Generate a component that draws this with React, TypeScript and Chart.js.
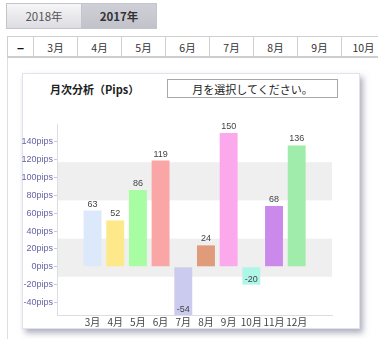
import React, { useEffect, useRef } from 'react';
import { Chart, registerables } from 'chart.js';

Chart.register(...registerables);

const months = ['3月', '4月', '5月', '6月', '7月', '8月', '9月', '10月', '11月', '12月'];
const pips = [63, 52, 86, 119, -54, 24, 150, -20, 68, 136];
const barColors = ['#dbe9fb', '#fee98a', '#a8fca2', '#fba6a6', '#cbcbef', '#df9b7a', '#fba9ec', '#aef6e7', '#cb8aeb', '#a0ecab'];
const yTicks = [-40, -20, 0, 20, 40, 60, 80, 100, 120, 140];
const yMin = -54;
const yMax = 160;
const yearTabs = ['2018年', '2017年'];
const monthTabs = ['−', '3月', '4月', '5月', '6月', '7月', '8月', '9月', '10月'];
const chartTitle = '月次分析（Pips）';
const selectText = '月を選択してください。';

const JP = '"Noto Sans CJK JP", "Noto Sans", sans-serif';

const bandPlugin = {
  id: 'bands',
  beforeDraw(chart: any) {
    const { ctx, chartArea } = chart;
    const { left, right, top, bottom } = chartArea;
    const h = (bottom - top) / 5;
    ctx.save();
    ctx.fillStyle = '#efefef';
    [1, 3].forEach((i) => ctx.fillRect(left, top + i * h, right - left, h));
    ctx.restore();
  },
};

const labelPlugin = {
  id: 'barLabels',
  afterDatasetsDraw(chart: any) {
    const { ctx } = chart;
    const meta = chart.getDatasetMeta(0);
    ctx.save();
    ctx.font = '9px "Liberation Sans", Arial, sans-serif';
    ctx.fillStyle = '#444';
    ctx.textAlign = 'center';
    ctx.textBaseline = 'bottom';
    meta.data.forEach((el: any, i: number) => {
      const v = pips[i];
      if (v >= 0) ctx.fillText(String(v), el.x, el.y - 2);
      else ctx.fillText(String(v), el.x, el.y - 1);
    });
    ctx.restore();
  },
};

export default function App() {
  const ref = useRef<HTMLCanvasElement>(null);
  useEffect(() => {
    document.body.style.margin = '0';
    const chart = new Chart(ref.current as HTMLCanvasElement, {
      type: 'bar',
      data: {
        datasets: [
          {
            data: pips.map((v, i) => ({ x: i, y: v })),
            backgroundColor: barColors,
            borderWidth: 0,
            categoryPercentage: 1,
            barPercentage: 0.79,
          },
        ],
      },
      options: {
        animation: false,
        responsive: false,
        layout: { padding: { top: 24, right: 46, left: 0, bottom: 0 } },
        plugins: { legend: { display: false }, tooltip: { enabled: false }, title: { display: false } },
        scales: {
          x: {
            type: 'linear',
            min: -0.96,
            max: 9.95,
            afterBuildTicks: (s: any) => {
              s.ticks = months.map((_, i) => ({ value: i }));
            },
            afterFit: (s: any) => {
              s.height = 14;
            },
            ticks: {
              callback: (v: any) => months[v] ?? '',
              font: { size: 10, family: JP },
              color: '#444',
              padding: 1,
              autoSkip: false,
              maxRotation: 0,
            },
            grid: { display: false, drawTicks: false },
            border: { display: true, color: '#dcdce4', width: 1 },
          },
          y: {
            min: yMin,
            max: yMax,
            afterBuildTicks: (s: any) => {
              s.ticks = yTicks.map((v) => ({ value: v }));
            },
            afterFit: (s: any) => {
              s.width = 57;
            },
            ticks: {
              callback: (v: any) => v + 'pips',
              font: { size: 9, family: '"Liberation Sans", Arial, sans-serif' },
              color: '#6464a4',
              padding: 1,
            },
            grid: { display: true, drawOnChartArea: false, drawTicks: true, tickLength: 3, color: '#c8c8d8' },
            border: { display: true, color: '#dcdce4', width: 1 },
          },
        },
      },
      plugins: [bandPlugin, labelPlugin],
    } as any);
    return () => chart.destroy();
  }, []);

  const cellBase: React.CSSProperties = {
    position: 'absolute',
    top: 36,
    height: 21,
    borderLeft: '1px solid #cfcfcf',
    borderTop: '1px solid #cfcfcf',
    boxSizing: 'border-box',
    fontFamily: JP,
    fontSize: 10.5,
    color: '#333',
    display: 'flex',
    alignItems: 'center',
    justifyContent: 'center',
    background: '#fff',
  };

  return (
    <div style={{ position: 'relative', width: 378, height: 339, overflow: 'hidden', background: '#fff' }}>
      {yearTabs.map((t, i) => (
        <div
          key={t}
          style={{
            position: 'absolute',
            left: i === 0 ? 6 : 82,
            top: 3,
            width: i === 0 ? 76 : 75,
            height: 26,
            boxSizing: 'border-box',
            border: '1px solid #c4c4cc',
            borderLeft: i === 0 ? '1px solid #c4c4cc' : 'none',
            background: i === 0 ? 'linear-gradient(#f6f6f8, #dcdce2)' : 'linear-gradient(#cfcfd7, #c2c2cb)',
            fontFamily: JP,
            fontSize: 11.5,
            fontWeight: i === 1 ? 'bold' : 'normal',
            color: i === 1 ? '#333' : '#555',
            display: 'flex',
            alignItems: 'center',
            justifyContent: 'center',
          }}
        >
          {t}
        </div>
      ))}
      {monthTabs.map((t, i) => (
        <div
          key={t + i}
          style={{
            ...cellBase,
            left: i === 0 ? 7 : 33 + (i - 1) * 44,
            width: i === 0 ? 26 : 44,
            fontWeight: i === 0 ? 'bold' : 'normal',
            fontSize: i === 0 ? 12 : 10.5,
            color: i === 0 ? '#111' : '#333',
          }}
        >
          {t}
        </div>
      ))}
      <div style={{ position: 'absolute', left: 7, top: 56, width: 371, height: 2, background: '#cdcdcd' }} />
      <div style={{ position: 'absolute', left: 7, top: 58, width: 1, height: 281, background: '#dedede' }} />
      <div
        style={{
          position: 'absolute',
          left: 22,
          top: 73,
          width: 338,
          height: 256,
          boxSizing: 'border-box',
          border: '1px solid #e2e2ee',
          background: '#fff',
          boxShadow: '3px 4px 6px rgba(110,110,140,0.55)',
        }}
      />
      <div
        style={{
          position: 'absolute',
          left: 50,
          top: 80,
          height: 18,
          lineHeight: '18px',
          fontFamily: JP,
          fontSize: 11,
          fontWeight: 'bold',
          color: '#222',
          whiteSpace: 'nowrap',
        }}
      >
        {chartTitle}
      </div>
      <div
        style={{
          position: 'absolute',
          left: 167,
          top: 79,
          width: 171,
          height: 19,
          boxSizing: 'border-box',
          border: '1px solid #a8a8a8',
          fontFamily: JP,
          fontSize: 11,
          color: '#222',
          display: 'flex',
          alignItems: 'center',
          justifyContent: 'center',
          whiteSpace: 'nowrap',
        }}
      >
        {selectText}
      </div>
      <canvas
        ref={ref}
        width={378}
        height={229}
        style={{ position: 'absolute', left: 0, top: 100, width: 378, height: 229 }}
      />
    </div>
  );
}
